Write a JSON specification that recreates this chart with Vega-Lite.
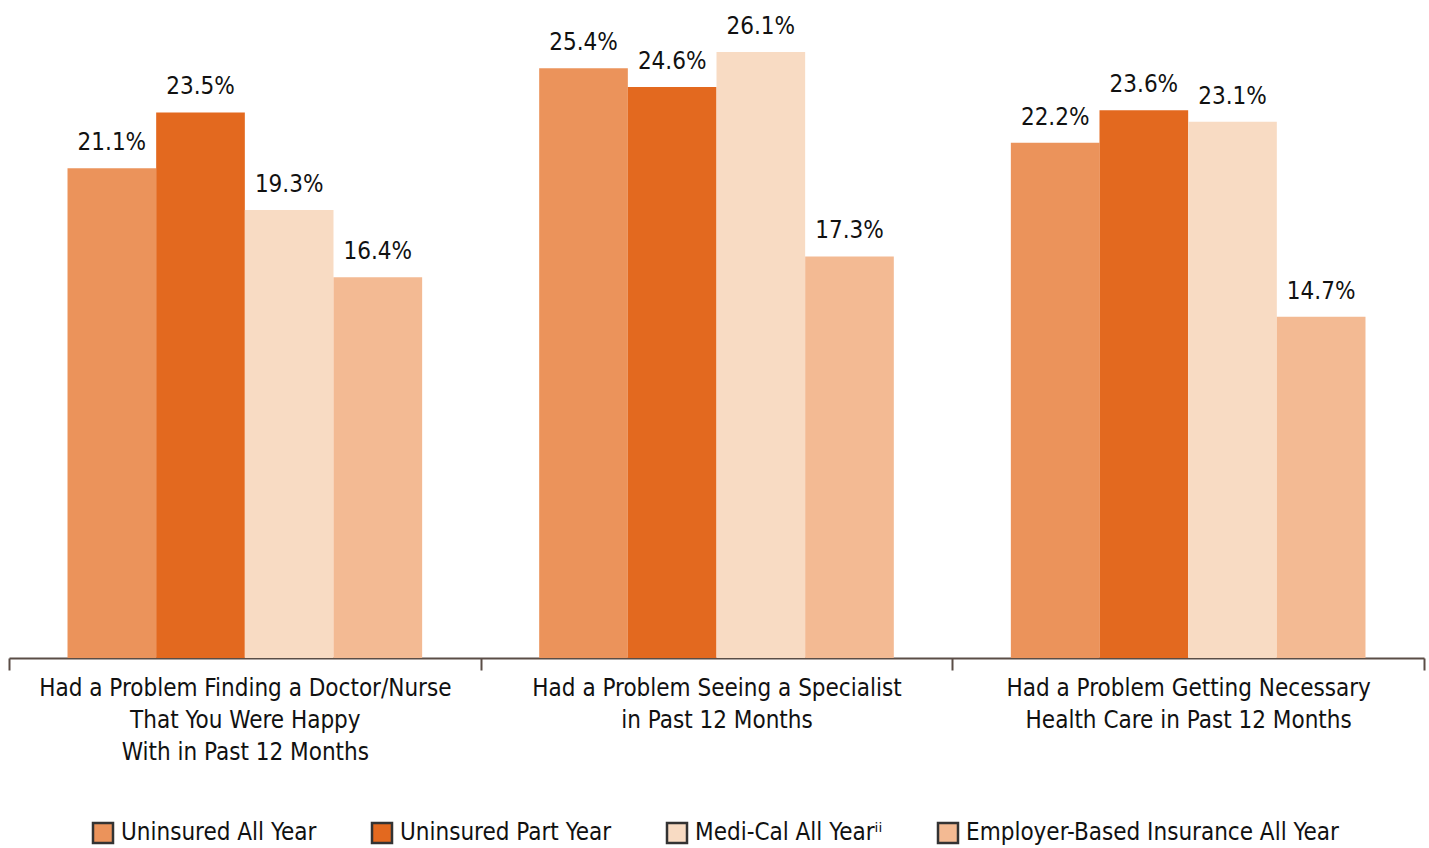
{
  "$schema": "https://vega.github.io/schema/vega-lite/v6.json",
  "width": 1415,
  "height": 650,
  "padding": {"left": 9, "top": 8, "right": 5, "bottom": 190},
  "autosize": "none",
  "config": {
    "view": {"stroke": null},
    "font": "'DejaVu Sans Condensed', 'Liberation Sans Narrow', Roboto, sans-serif"
  },
  "data": {
    "values": [
      {"cat": "Had a Problem Finding a Doctor/Nurse|That You Were Happy|With in Past 12 Months", "group": "Uninsured All Year", "value": 0.211},
      {"cat": "Had a Problem Finding a Doctor/Nurse|That You Were Happy|With in Past 12 Months", "group": "Uninsured Part Year", "value": 0.235},
      {"cat": "Had a Problem Finding a Doctor/Nurse|That You Were Happy|With in Past 12 Months", "group": "Medi-Cal All Yearⁱⁱ", "value": 0.193},
      {"cat": "Had a Problem Finding a Doctor/Nurse|That You Were Happy|With in Past 12 Months", "group": "Employer-Based Insurance All Year", "value": 0.164},
      {"cat": "Had a Problem Seeing a Specialist|in Past 12 Months", "group": "Uninsured All Year", "value": 0.254},
      {"cat": "Had a Problem Seeing a Specialist|in Past 12 Months", "group": "Uninsured Part Year", "value": 0.246},
      {"cat": "Had a Problem Seeing a Specialist|in Past 12 Months", "group": "Medi-Cal All Yearⁱⁱ", "value": 0.261},
      {"cat": "Had a Problem Seeing a Specialist|in Past 12 Months", "group": "Employer-Based Insurance All Year", "value": 0.173},
      {"cat": "Had a Problem Getting Necessary|Health Care in Past 12 Months", "group": "Uninsured All Year", "value": 0.222},
      {"cat": "Had a Problem Getting Necessary|Health Care in Past 12 Months", "group": "Uninsured Part Year", "value": 0.236},
      {"cat": "Had a Problem Getting Necessary|Health Care in Past 12 Months", "group": "Medi-Cal All Yearⁱⁱ", "value": 0.231},
      {"cat": "Had a Problem Getting Necessary|Health Care in Past 12 Months", "group": "Employer-Based Insurance All Year", "value": 0.147}
    ]
  },
  "encoding": {
    "x": {
      "field": "cat",
      "type": "nominal",
      "sort": null,
      "scale": {"paddingInner": 0, "paddingOuter": 0},
      "axis": {
        "title": null,
        "labelAngle": 0,
        "labelExpr": "split(datum.label, '|')",
        "labelFontSize": 24,
        "labelLineHeight": 32,
        "labelColor": "#111111",
        "labelBaseline": "top",
        "labelPadding": 6,
        "labelLimit": 600,
        "tickBand": "extent",
        "tickSize": 12,
        "tickWidth": 2,
        "tickColor": "#5a4d46",
        "domainColor": "#5a4d46",
        "domainWidth": 2
      }
    },
    "xOffset": {
      "field": "group",
      "type": "nominal",
      "sort": ["Uninsured All Year", "Uninsured Part Year", "Medi-Cal All Yearⁱⁱ", "Employer-Based Insurance All Year"],
      "scale": {"paddingInner": 0, "paddingOuter": 0.66}
    },
    "y": {
      "field": "value",
      "type": "quantitative",
      "scale": {"domain": [0, 0.28]},
      "axis": null
    }
  },
  "layer": [
    {
      "mark": {"type": "bar"},
      "encoding": {
        "color": {
          "field": "group",
          "type": "nominal",
          "scale": {
            "domain": ["Uninsured All Year", "Uninsured Part Year", "Medi-Cal All Yearⁱⁱ", "Employer-Based Insurance All Year"],
            "range": ["#EB935B", "#E3691F", "#F8DBC3", "#F3BA93"]
          },
          "legend": {
            "title": null,
            "orient": "none",
            "direction": "horizontal",
            "columns": 4,
            "legendX": 82,
            "legendY": 813,
            "symbolType": "square",
            "symbolSize": 400,
            "symbolStrokeColor": "#333333",
            "symbolStrokeWidth": 2.5,
            "symbolOpacity": 1,
            "labelFontSize": 24,
            "labelColor": "#111111",
            "labelOffset": 6,
            "columnPadding": 50,
            "labelLimit": 600
          }
        }
      }
    },
    {
      "mark": {"type": "text", "baseline": "alphabetic", "dy": -18, "fontSize": 24, "color": "#111111"},
      "encoding": {
        "text": {"field": "value", "type": "quantitative", "format": ".1%"},
        "detail": {"field": "group"}
      }
    }
  ]
}
